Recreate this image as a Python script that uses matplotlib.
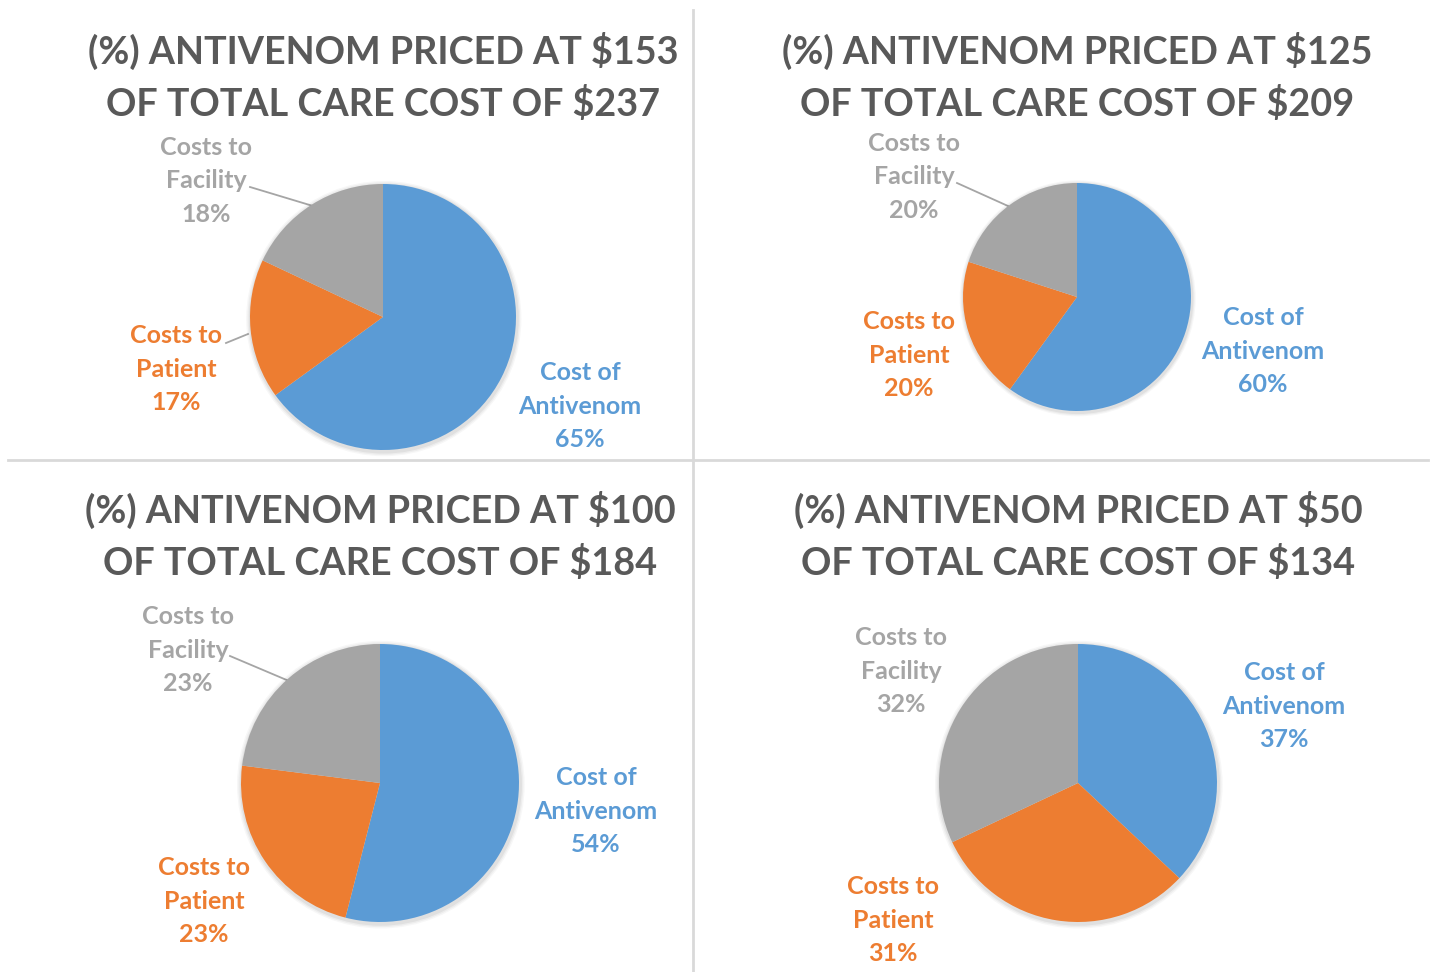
import matplotlib
matplotlib.use("Agg")
import matplotlib.pyplot as plt
from matplotlib.patches import Circle

plt.rcParams['font.family'] = ['Lato', 'DejaVu Sans']

W, H = 1435, 972

titles = [
    "(%) ANTIVENOM PRICED AT $153\nOF TOTAL CARE COST OF $237",
    "(%) ANTIVENOM PRICED AT $125\nOF TOTAL CARE COST OF $209",
    "(%) ANTIVENOM PRICED AT $100\nOF TOTAL CARE COST OF $184",
    "(%) ANTIVENOM PRICED AT $50\nOF TOTAL CARE COST OF $134",
]
categories = ["Cost of\nAntivenom", "Costs to\nPatient", "Costs to\nFacility"]
antivenom = [65, 60, 54, 37]
patient = [17, 20, 23, 31]
facility = [18, 20, 23, 32]

colors = ["#5B9BD5", "#ED7D31", "#A5A5A5"]
title_color = "#595959"

# layout (pixel units)
pie_geom = [(383, 317, 133), (1077, 297, 114), (380, 783, 139), (1078, 783, 139)]
title_pos = [(383, 77), (1077, 77), (380, 536), (1078, 536)]
# label centers: antivenom, patient, facility
label_pos = [
    [(580, 406), (176, 369), (206, 181)],
    [(1263, 351), (909, 355), (914, 177)],
    [(596, 811), (204, 901), (188, 650)],
    [(1284, 706), (893, 920), (901, 671)],
]
# leader lines (x list, y list) per chart
leaders = [
    [([250, 313], [187, 206]), ([226, 248], [343, 334])],
    [([957, 1008], [183, 206])],
    [([230, 289], [656, 681])],
    [],
]

fig = plt.figure(figsize=(W / 100, H / 100), dpi=100)
fig.patch.set_facecolor("white")

bg = fig.add_axes([0, 0, 1, 1])
bg.set_xlim(0, W)
bg.set_ylim(H, 0)
bg.axis("off")

# dividers
bg.plot([693, 693], [10, 972], color="#D9D9D9", lw=2)
bg.plot([8, 1428], [460, 460], color="#D9D9D9", lw=2)

for i in range(4):
    cx, cy, r = pie_geom[i]
    ax = fig.add_axes([(cx - r) / W, 1 - (cy + r) / H, 2 * r / W, 2 * r / H])
    # soft shadow beneath the pie
    for k, a in [(0.035, 0.03), (0.025, 0.04), (0.015, 0.05)]:
        ax.add_patch(Circle((0.006, -0.012), 1 + k, color="black", alpha=a,
                            lw=0, zorder=0, clip_on=False))
    vals = [antivenom[i], patient[i], facility[i]]
    wedges, _ = ax.pie(vals, colors=colors, startangle=90, counterclock=False,
                       radius=1, wedgeprops=dict(linewidth=0))
    for w in wedges:
        w.set_zorder(2)
    ax.set_xlim(-1, 1)
    ax.set_ylim(-1, 1)
    ax.set_aspect("equal")
    ax.axis("off")

    tx, ty = title_pos[i]
    bg.text(tx, ty, titles[i], ha="center", va="center", fontsize=27.2,
            fontweight="bold", color=title_color, linespacing=1.55)

    for j in range(3):
        lx, ly = label_pos[i][j]
        bg.text(lx, ly, f"{categories[j]}\n{vals[j]}%", ha="center", va="center",
                fontsize=18, fontweight="bold", color=colors[j], linespacing=1.55)

    for xs, ys in leaders[i]:
        bg.plot(xs, ys, color="#A5A5A5", lw=1.3)

fig.savefig("out.png", dpi=100)
